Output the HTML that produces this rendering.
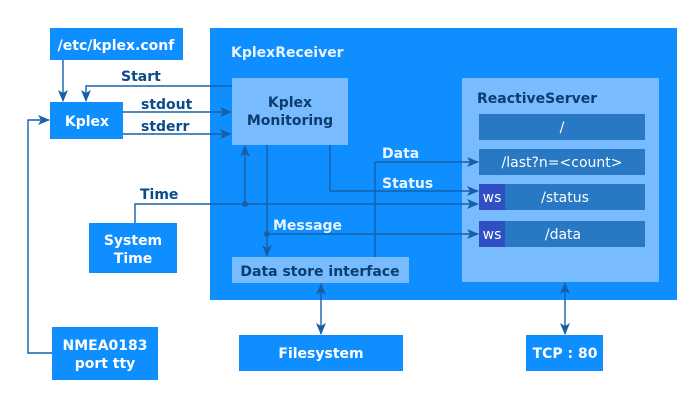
<!DOCTYPE html>
<html><head><style>
html,body{margin:0;padding:0;background:#fff}
svg text{font-family:"DejaVu Sans","Liberation Sans",sans-serif;font-weight:bold;font-size:14px}
</style></head><body>
<svg width="700" height="400" viewBox="0 0 700 400" xmlns="http://www.w3.org/2000/svg">
<defs>
<marker id="a" markerWidth="12" markerHeight="10" refX="11" refY="5" orient="auto" markerUnits="userSpaceOnUse"><path d="M0,0 L12,5 L0,10 L3,5 z" fill="#1560a8"/></marker>
<marker id="s" markerWidth="12" markerHeight="10" refX="1" refY="5" orient="auto" markerUnits="userSpaceOnUse"><path d="M12,0 L0,5 L12,10 L9,5 z" fill="#1560a8"/></marker>
</defs>
<rect x="210" y="28" width="467" height="272" fill="#0f8fff"/>
<text x="231" y="57" fill="#e8f4ff">KplexReceiver</text>
<rect x="232" y="78" width="116" height="67" fill="#78bcff"/>
<text x="290" y="107" text-anchor="middle" fill="#0b3d6e">Kplex</text>
<text x="290" y="125" text-anchor="middle" fill="#0b3d6e">Monitoring</text>
<rect x="462" y="78" width="197" height="204" fill="#78bcff"/>
<text x="477" y="103" fill="#0b3d6e">ReactiveServer</text>
<rect x="479" y="114" width="166" height="26" fill="#2878c4"/>
<rect x="479" y="149" width="166" height="26" fill="#2878c4"/>
<rect x="479" y="184" width="166" height="26" fill="#2878c4"/>
<rect x="479" y="184" width="26" height="26" fill="#2e50c4"/>
<rect x="479" y="221" width="166" height="26" fill="#2878c4"/>
<rect x="479" y="221" width="26" height="26" fill="#2e50c4"/>
<text x="562" y="132" text-anchor="middle" fill="#fff" style="font-weight:normal">/</text>
<text x="562" y="167" text-anchor="middle" fill="#fff" style="font-weight:normal">/last?n=&lt;count&gt;</text>
<text x="492" y="202" text-anchor="middle" fill="#fff" style="font-weight:normal">ws</text>
<text x="565" y="202" text-anchor="middle" fill="#fff" style="font-weight:normal">/status</text>
<text x="492" y="239" text-anchor="middle" fill="#fff" style="font-weight:normal">ws</text>
<text x="563" y="239" text-anchor="middle" fill="#fff" style="font-weight:normal">/data</text>
<rect x="232" y="257" width="177" height="26" fill="#78bcff"/>
<text x="320" y="276" text-anchor="middle" fill="#0b3d6e">Data store interface</text>
<rect x="50" y="28" width="133" height="32" fill="#0f8fff"/>
<text x="116" y="50" text-anchor="middle" fill="#fff">/etc/kplex.conf</text>
<rect x="50" y="102" width="73" height="37" fill="#0f8fff"/>
<text x="87" y="126" text-anchor="middle" fill="#fff">Kplex</text>
<rect x="89" y="223" width="88" height="50" fill="#0f8fff"/>
<text x="133" y="245" text-anchor="middle" fill="#fff">System</text>
<text x="133" y="263" text-anchor="middle" fill="#fff">Time</text>
<rect x="52" y="327" width="106" height="53" fill="#0f8fff"/>
<text x="105" y="350" text-anchor="middle" fill="#fff">NMEA0183</text>
<text x="105" y="368" text-anchor="middle" fill="#fff">port tty</text>
<rect x="239" y="335" width="164" height="36" fill="#0f8fff"/>
<text x="321" y="358" text-anchor="middle" fill="#fff">Filesystem</text>
<rect x="526" y="335" width="77" height="36" fill="#0f8fff"/>
<text x="565" y="358" text-anchor="middle" fill="#fff">TCP : 80</text>
<g stroke="#1560a8" stroke-width="1.4" fill="none">
<path d="M63,60 V101" marker-end="url(#a)"/>
<path d="M232,86 H86 V101" marker-end="url(#a)"/>
<path d="M123,112 H231" marker-end="url(#a)"/>
<path d="M123,134 H231" marker-end="url(#a)"/>
<path d="M52,353 H28 V120 H49" marker-end="url(#a)"/>
<path d="M135,223 V204 H478" marker-end="url(#a)"/>
<path d="M245,204 V146" marker-end="url(#a)"/>
<path d="M330,145 V191 H478" marker-end="url(#a)"/>
<path d="M267,145 V256" marker-end="url(#a)"/>
<path d="M267,234 H478" marker-end="url(#a)"/>
<path d="M375,257 V162 H478" marker-end="url(#a)"/>
<path d="M321,284 V334" marker-start="url(#s)" marker-end="url(#a)"/>
<path d="M565,283 V334" marker-start="url(#s)" marker-end="url(#a)"/>
</g>
<circle cx="245" cy="204" r="3" fill="#1560a8"/>
<circle cx="267" cy="234" r="3" fill="#1560a8"/>
<text x="121" y="81" fill="#0b4a8a">Start</text>
<text x="141" y="109" fill="#0b4a8a">stdout</text>
<text x="141" y="131" fill="#0b4a8a">stderr</text>
<text x="140" y="199" fill="#0b4a8a">Time</text>
<text x="273" y="230" fill="#e8f4ff">Message</text>
<text x="382" y="158" fill="#e8f4ff">Data</text>
<text x="382" y="188" fill="#e8f4ff">Status</text>
</svg>
</body></html>
